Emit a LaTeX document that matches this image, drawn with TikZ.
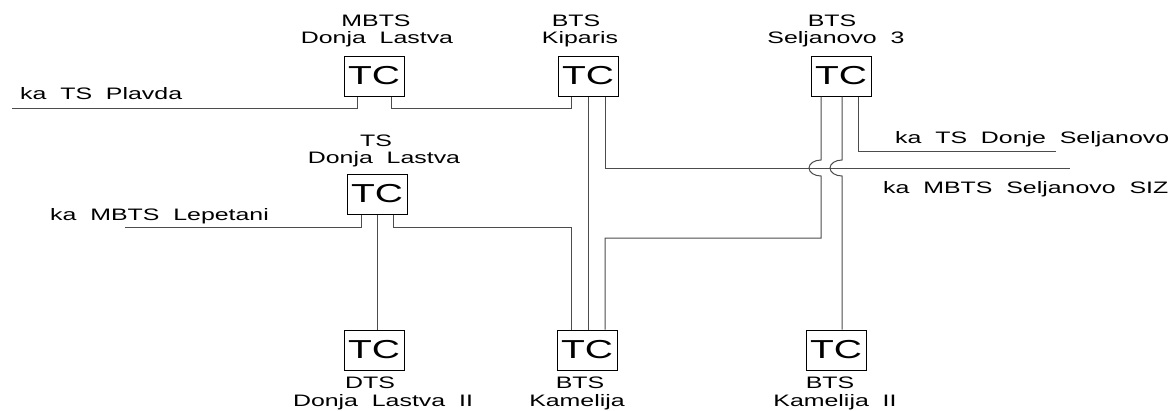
\documentclass[tikz,border=0pt]{standalone}
\usepackage{fontspec}
\setmainfont[FakeStretch=1.5]{Liberation Sans}
\usetikzlibrary{calc}
\begin{document}
\begin{tikzpicture}[x=1pt,y=-1pt,
  tc/.style={draw=black, line width=1pt, minimum width=60pt, minimum height=40pt,
             inner sep=0pt, font=\fontsize{26}{26}\selectfont},
  lbl/.style={anchor=base, inner sep=0pt, font=\fontsize{16.6}{16.6}\selectfont},
  side/.style={anchor=base west, inner sep=0pt, font=\fontsize{16.6}{16.6}\selectfont},
  wire/.style={draw=black!70, line width=1pt}]
\useasboundingbox (0,0) rectangle (1169,410);

% terminal cabinets
\node[tc] (mb)  at (374,76)  {TC};
\node[tc] (kp)  at (588,76)  {TC};
\node[tc] (sj)  at (841,76)  {TC};
\node[tc] (tl)  at (377,194) {TC};
\node[tc] (dts) at (374,350) {TC};
\node[tc] (km)  at (587,350) {TC};
\node[tc] (k2)  at (836,350) {TC};

% station names
\node[lbl] (mbA) at (376,26) {MBTS};
\node[lbl] (mbB) at (377,43) {Donja~~Lastva};
\node[lbl] (kpA) at (576,26) {BTS};
\node[lbl] (kpB) at (580,43) {Kiparis};
\node[lbl] (sjA) at (832,26) {BTS};
\node[lbl] (sjB) at (836,43) {Seljanovo~~3};
\node[lbl] (tlA) at (376,146) {TS};
\node[lbl] (tlB) at (384,163) {Donja~~Lastva};
\node[lbl] (dtsA) at (370,388) {DTS};
\node[lbl] (dtsB) at (383,406) {Donja~~Lastva~~II};
\node[lbl] (kmA) at (580,388) {BTS};
\node[lbl] (kmB) at (577,406) {Kamelija};
\node[lbl] (k2A) at (830,388) {BTS};
\node[lbl] (k2B) at (835,406) {Kamelija~~II};

% outgoing feeders
\node[side] (plT) at (20,99)  {ka~~TS~~Plavda};
\node[side] (lpT) at (50,220) {ka~~MBTS~~Lepetani};
\node[side] (dsT) at (895,143) {ka~~TS~~Donje~~Seljanovo};
\node[side] (szT) at (883,193) {ka~~MBTS~~Seljanovo~~SIZ};

% cable leads
\coordinate (mbl) at ([xshift=-17pt]mb.south);
\coordinate (mbr) at ([xshift=17pt]mb.south);
\coordinate (kpl) at ([xshift=-17pt]kp.south);
\coordinate (kpm) at (kp.south);
\coordinate (kpr) at ([xshift=17pt]kp.south);
\coordinate (sjl) at ([xshift=-20pt]sj.south);
\coordinate (sjm) at ([xshift=1pt]sj.south);
\coordinate (sjr) at ([xshift=17pt]sj.south);
\coordinate (tll) at ([xshift=-16pt]tl.south);
\coordinate (tlm) at (tl.south);
\coordinate (tlr) at ([xshift=16pt]tl.south);
\coordinate (kml) at (kpl |- km.north);
\coordinate (kmm) at (kpm |- km.north);
\coordinate (kmr) at (kpr |- km.north);
\coordinate (dtsm) at (tlm |- dts.north);
\coordinate (k2m) at (sjm |- k2.north);

% free cable ends
\coordinate (plavda) at (12,108);
\coordinate (lep)    at (125,227);
\coordinate (dsel)   at (1056,151);
\coordinate (siz)    at (1070,168);

% crossings and bends
\coordinate (x1) at (sjl |- siz);
\coordinate (x2) at (sjm |- siz);
\coordinate (j1) at (sjl |- 0,238);

% cables
\draw[wire] (plavda) -| (mbl);
\draw[wire] (mbr) -- ++(0,12) -| (kpl);
\draw[wire] (kpm) -- (kmm);
\draw[wire] (kpr) |- (siz);
\draw[wire] (sjr) |- (dsel);
\draw[wire] (tll) |- (lep);
\draw[wire] (tlr) -- ++(0,13) -| (kml);
\draw[wire] (tlm) -- (dtsm);
\draw[wire] (sjl) -- ($(x1)+(0,-8)$)
  .. controls ($(x1)+(-6.6,-8)$) and ($(x1)+(-12,-4.4)$) .. ($(x1)+(-12,0)$)
  .. controls ($(x1)+(-12,4.4)$) and ($(x1)+(-6.6,8)$) .. ($(x1)+(0,8)$)
  -- (j1) -| (kmr);
\draw[wire] (sjm) -- ($(x2)+(0,-8)$)
  .. controls ($(x2)+(-6.6,-8)$) and ($(x2)+(-12,-4.4)$) .. ($(x2)+(-12,0)$)
  .. controls ($(x2)+(-12,4.4)$) and ($(x2)+(-6.6,8)$) .. ($(x2)+(0,8)$)
  -- (k2m);
\end{tikzpicture}
\end{document}
